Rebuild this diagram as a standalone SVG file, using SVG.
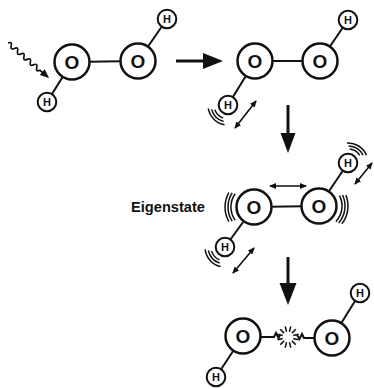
<svg xmlns="http://www.w3.org/2000/svg" width="374" height="389" viewBox="0 0 374 389">
  <style>
    .ring { fill: #fff; stroke: #111; stroke-width: 2.5; }
    .hring { fill: #fff; stroke: #111; stroke-width: 2; }
    .olab { font-family: "Liberation Sans", Arial, sans-serif; font-weight: bold; font-size: 19px; text-anchor: middle; fill: #111; }
    .hlab { font-family: "Liberation Sans", Arial, sans-serif; font-weight: bold; font-size: 11px; text-anchor: middle; fill: #111; }
    .bond { stroke: #111; stroke-width: 2; fill: none; }
    .shaft { stroke: #111; stroke-width: 3; fill: none; }
    .head { fill: #111; }
    .dbl { stroke: #111; stroke-width: 1.6; fill: none; marker-start: url(#tip); marker-end: url(#tip); }
    .vib { stroke: #111; stroke-width: 1.5; fill: none; }
    .spark { stroke: #111; stroke-width: 1.5; fill: none; }
    .caption { font-family: "Liberation Sans", Arial, sans-serif; font-weight: bold; font-size: 14px; fill: #111; }
  </style>
  <defs>
    <marker id="tip" viewBox="0 0 7 6" refX="6" refY="3" markerWidth="7" markerHeight="6" markerUnits="userSpaceOnUse" orient="auto-start-reverse">
      <path d="M0,0 L7,3 L0,6 z" fill="#111"/>
    </marker>
    <!-- vibration arcs, pointing along +x -->
    <path id="vibH" class="vib" d="M12.7,-5.9 A14,14 0 0 1 12.7,5.9 M14.7,-8.5 A17,17 0 0 1 14.7,8.5 M16.4,-11.5 A20,20 0 0 1 16.4,11.5"/>
    <path id="vibO" class="vib" d="M18.9,-13.2 A23,23 0 0 1 18.9,13.2 M21.8,-14.2 A26,26 0 0 1 21.8,14.2 M25.1,-14.5 A29,29 0 0 1 25.1,14.5"/>
  </defs>
  <rect width="374" height="389" fill="#fff"/>

  <g id="connectors">
    <!-- molecule 1 bonds -->
    <line class="bond" x1="72" y1="62" x2="47" y2="102"/>
    <line class="bond" x1="72" y1="62" x2="138" y2="61"/>
    <line class="bond" x1="138" y1="61" x2="167" y2="19"/>
    <!-- molecule 2 bonds -->
    <line class="bond" x1="255" y1="61" x2="228" y2="105"/>
    <line class="bond" x1="255" y1="61" x2="320" y2="61"/>
    <line class="bond" x1="320" y1="61" x2="348" y2="20"/>
    <!-- molecule 3 bonds -->
    <line class="bond" x1="254" y1="207" x2="225" y2="247"/>
    <line class="bond" x1="254" y1="207" x2="319" y2="206"/>
    <line class="bond" x1="319" y1="206" x2="348" y2="163"/>
    <!-- molecule 4 bonds (O-O bond broken) -->
    <line class="bond" x1="243" y1="336" x2="216" y2="377"/>
    <line class="bond" x1="332" y1="338" x2="360" y2="293"/>
    <path class="bond" d="M259,337 L274,337 L276,333 L278.5,338 L280,335"/>
    <path class="bond" d="M297,335 L299.5,339 L302,334 L304,338 L316,338"/>

    <!-- incoming photon -->
    <g transform="translate(8,43) rotate(40.5)">
      <path class="bond" style="stroke-width:1.7" d="M0,0 q2.1,-4.2 4.2,0 t4.2,0 t4.2,0 t4.2,0 t4.2,0 t4.2,0 t4.2,0 t4.2,0 t4.2,0 t4.2,0 L46,0"/>
      <path class="head" d="M45,-3.8 L54,0 L45,3.8 z"/>
    </g>

    <!-- reaction arrows -->
    <line class="shaft" x1="176" y1="61" x2="205" y2="61"/>
    <path class="head" d="M203,53 L223,61 L203,69 z"/>
    <line class="shaft" x1="288" y1="105" x2="288" y2="135"/>
    <path class="head" d="M280.5,133 L295.5,133 L288,153 z"/>
    <line class="shaft" x1="288" y1="257" x2="288" y2="285"/>
    <path class="head" d="M279.5,283 L296.5,283 L288,305 z"/>
  </g>

  <!-- molecule 1 -->
  <g id="m1-O1"><circle class="ring" cx="72" cy="62" r="17.5"/><text class="olab" x="72" y="68.8">O</text></g>
  <g id="m1-O2"><circle class="ring" cx="138" cy="61" r="17.5"/><text class="olab" x="138" y="67.8">O</text></g>
  <g id="m1-H1"><circle class="hring" cx="167" cy="19" r="9.3"/><text class="hlab" x="167" y="23">H</text></g>
  <g id="m1-H2"><circle class="hring" cx="47" cy="102" r="9.3"/><text class="hlab" x="47" y="106">H</text></g>

  <!-- molecule 2 -->
  <g id="m2-O1"><circle class="ring" cx="255" cy="61" r="17.5"/><text class="olab" x="255" y="67.8">O</text></g>
  <g id="m2-O2"><circle class="ring" cx="320" cy="61" r="17.5"/><text class="olab" x="320" y="67.8">O</text></g>
  <g id="m2-H1"><circle class="hring" cx="348" cy="20" r="9.3"/><text class="hlab" x="348" y="24">H</text></g>
  <g id="m2-H2">
    <circle class="hring" cx="228" cy="105" r="9.3"/><text class="hlab" x="228" y="109">H</text>
    <use href="#vibH" transform="translate(228,105) rotate(135)"/>
    <line class="dbl" x1="235" y1="128" x2="256" y2="101"/>
  </g>

  <!-- molecule 3 (eigenstate) -->
  <text id="label-eigenstate" class="caption" x="131" y="212" textLength="74" lengthAdjust="spacingAndGlyphs">Eigenstate</text>
  <g id="m3-O1">
    <circle class="ring" cx="254" cy="207" r="17.5"/><text class="olab" x="254" y="213.8">O</text>
    <use href="#vibO" transform="translate(254,207) rotate(180)"/>
  </g>
  <g id="m3-O2">
    <circle class="ring" cx="319" cy="206" r="17.5"/><text class="olab" x="319" y="212.8">O</text>
    <use href="#vibO" transform="translate(319,206) rotate(8)"/>
  </g>
  <line id="m3-stretch" class="dbl" x1="270" y1="186" x2="306" y2="186"/>
  <g id="m3-H1">
    <circle class="hring" cx="348" cy="163" r="9.3"/><text class="hlab" x="348" y="167">H</text>
    <use href="#vibH" transform="translate(348,163) rotate(-58)"/>
    <line class="dbl" x1="355" y1="184" x2="372" y2="163"/>
  </g>
  <g id="m3-H2">
    <circle class="hring" cx="225" cy="247" r="9.3"/><text class="hlab" x="225" y="251">H</text>
    <use href="#vibH" transform="translate(225,247) rotate(138)"/>
    <line class="dbl" x1="233" y1="273" x2="254" y2="248"/>
  </g>

  <!-- molecule 4 (dissociated) -->
  <g id="m4-O1"><circle class="ring" cx="243" cy="336" r="17.5"/><text class="olab" x="243" y="342.8">O</text></g>
  <g id="m4-break">
    <path class="spark" transform="translate(288,337)" d="M5.3,1.4 L10.6,2.8 M3.9,3.9 L7.8,7.8 M1.4,5.3 L2.8,10.6 M-1.4,5.3 L-2.8,10.6 M-3.9,3.9 L-7.8,7.8 M-5.3,1.4 L-10.6,2.8 M-5.3,-1.4 L-10.6,-2.8 M-3.9,-3.9 L-7.8,-7.8 M-1.4,-5.3 L-2.8,-10.6 M1.4,-5.3 L2.8,-10.6 M3.9,-3.9 L7.8,-7.8 M5.3,-1.4 L10.6,-2.8"/>
  </g>
  <g id="m4-O2"><circle class="ring" cx="332" cy="338" r="17.5"/><text class="olab" x="332" y="344.8">O</text></g>
  <g id="m4-H1"><circle class="hring" cx="360" cy="293" r="9.3"/><text class="hlab" x="360" y="297">H</text></g>
  <g id="m4-H2"><circle class="hring" cx="216" cy="377" r="9.3"/><text class="hlab" x="216" y="381">H</text></g>
</svg>
